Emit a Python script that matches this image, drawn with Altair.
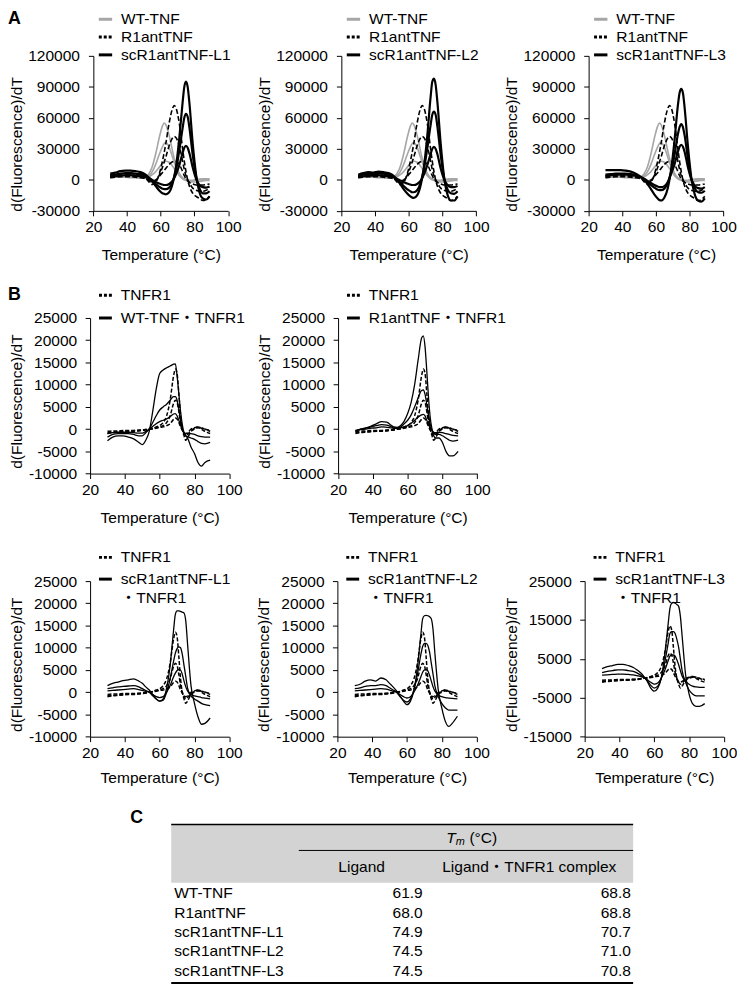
import altair as alt
import pandas as pd

# ------------------------------------------------------------------ data
# Panel A: temperature grid and dF/dT curves (3 concentrations each)
TA = [30, 33, 36, 39, 42, 45, 48, 51, 53, 55, 57, 59, 61, 62, 63, 65, 67, 68,
      69, 71, 73, 74, 75, 76, 77, 79, 81, 83, 85, 87, 89]

WT_1 = [3000, 3500, 3500, 3500, 3000, 3000, 2500, 3000, 6000, 13000, 25000, 40000, 52000, 55000, 53500, 43000,
        28000, 21000, 15000, 6500, 2000, 1000, 500, 0, -500, -300, 300, 800, 1000, 1000, 1000]
WT_2 = [2500, 3000, 3000, 3000, 2500, 2500, 2000, 2500, 4000, 8000, 15000, 24000, 32000, 35000, 36000, 31500,
        22000, 17000, 12500, 5000, 1500, 500, 0, -500, -1000, -1000, -500, 0, 0, 300, 500]
WT_3 = [2000, 2500, 2500, 2500, 2000, 2000, 1500, 2000, 3000, 5000, 8000, 12000, 16000, 17000, 18000, 17000,
        13500, 11000, 8500, 4000, 1000, 0, -500, -1000, -1500, -2000, -2000, -1500, -1000, -500, -500]

R1_1 = [4000, 4500, 5000, 5000, 5000, 4500, 4000, 2000, -2000, -4500, -2500, 5000, 18000, 26000, 35000, 55000,
        69000, 72000, 70000, 55000, 30000, 18000, 8000, 0, -6000, -13000, -16000, -18000, -20000, -19000, -16000]
R1_2 = [3000, 3500, 4000, 4000, 4000, 3500, 3000, 1500, -1000, -2500, -1000, 4000, 12000, 17000, 22000, 33000,
        40500, 42000, 41000, 33000, 18000, 10000, 4000, 0, -3000, -8000, -10000, -11000, -11000, -10000, -8000]
R1_3 = [2000, 2500, 3000, 3000, 3000, 2500, 2000, 1000, 0, -1000, 0, 3000, 7000, 9000, 11000, 15000,
        17500, 18000, 18000, 15000, 8000, 4000, 1000, -1000, -2500, -4000, -5000, -5000, -5000, -4500, -4000]

L1_1 = [6000, 7000, 8500, 9000, 9000, 8500, 7500, 5000, 2000, -2000, -6000, -10000, -13000, -13500, -14000, -12000,
        -4000, 3000, 12000, 40000, 75000, 90000, 95000, 90000, 75000, 35000, 5000, -12000, -18000, -19000, -16000]
L1_2 = [4500, 5000, 6000, 6500, 6500, 6000, 5500, 4000, 2000, -1000, -4000, -6500, -8500, -9000, -9000, -7500,
        -2000, 3000, 9000, 28000, 50000, 60000, 64000, 61000, 51000, 24000, 3000, -8000, -13000, -13000, -11000]
L1_3 = [3000, 3500, 4000, 4500, 4500, 4000, 3500, 2500, 1500, 0, -2000, -3500, -4500, -5000, -5000, -4000,
        -1000, 1500, 5000, 14000, 26000, 31000, 33000, 31000, 26000, 12000, 1000, -5000, -7000, -7500, -6500]

L2_1 = [5000, 6500, 7500, 7000, 8000, 7500, 6500, 4000, 0, -4000, -9000, -13000, -16000, -17000, -17500, -15000,
        -6000, 2000, 12000, 42000, 80000, 95000, 98000, 92000, 76000, 35000, 3000, -14000, -20000, -20000, -16000]
L2_2 = [4000, 5000, 6000, 5500, 6500, 6000, 5000, 3000, 500, -2500, -6000, -9000, -11000, -12000, -12000, -10000,
        -3000, 3000, 10000, 30000, 53000, 63000, 66000, 63000, 52000, 24000, 2000, -9000, -13000, -13500, -11000]
L2_3 = [3000, 3500, 4000, 4000, 4500, 4000, 3500, 2500, 1000, -500, -2000, -3500, -4500, -5000, -5000, -4000,
        -1000, 1500, 5000, 14000, 25000, 30000, 32000, 30000, 25000, 11000, 500, -5000, -7000, -7000, -6000]

L3_1 = [9500, 9500, 9500, 9500, 9000, 8000, 6000, 3000, 0, -4000, -9000, -14000, -18000, -19500, -20000, -17000,
        -8000, 0, 10000, 38000, 72000, 84000, 88000, 84000, 70000, 32000, 2000, -14000, -20000, -21000, -18000]
L3_2 = [5000, 5500, 6000, 6000, 6000, 5500, 4500, 2500, 500, -2000, -5000, -7500, -9500, -10000, -10000, -8500,
        -3000, 2000, 8000, 24000, 44000, 51000, 54000, 51000, 43000, 20000, 1000, -8000, -12000, -12500, -10500]
L3_3 = [4000, 4500, 5000, 5000, 5000, 4500, 4000, 2500, 1000, -1000, -3000, -5000, -6500, -7000, -7000, -6000,
        -2000, 1500, 6000, 15000, 27000, 32000, 34000, 32000, 27000, 12000, 500, -5500, -8000, -8500, -7000]

# Panel B: temperature grid and curves
TB = [30, 33, 36, 39, 42, 45, 48, 50, 52, 54, 56, 58, 60, 62, 64, 66, 68, 69,
      70, 71, 72, 73, 74, 75, 76, 78, 80, 82, 84, 86, 89]

TN_1 = [-1000, -800, -700, -600, -500, -500, -400, -300, -200, 0, 200, 500, 800, 1500, 3000, 6500,
        12000, 13500, 12500, 8000, 3000, 0, -1500, -2500, -2000, -500, 0, 300, 0, -500, -1000]
TN_2 = [-800, -700, -600, -500, -400, -400, -300, -200, -100, 0, 100, 300, 500, 800, 1500, 3000,
        5800, 6500, 6000, 4000, 1500, 0, -1000, -1500, -1200, -300, 200, 500, 300, 0, -500]
TN_3 = [-500, -400, -400, -300, -300, -300, -200, -200, -100, 0, 100, 200, 400, 500, 800, 1200,
        2200, 2500, 2300, 1500, 500, -200, -800, -1000, -800, 0, 300, 500, 200, 0, -300]

WC_1 = [-2600, -1800, -1500, -1500, -1800, -2200, -3000, -3500, -2500, -500, 4000, 9000, 12500, 13300, 13800, 14200,
        14600, 14700, 12000, 8000, 4000, 1000, -800, -1500, -2000, -4000, -5500, -7500, -8300, -7500, -7000]
WC_2 = [-1800, -1200, -1000, -1000, -1000, -1200, -1500, -1500, -800, 0, 1500, 3000, 4300, 5000, 5600, 6500,
        7300, 7300, 6500, 4500, 2000, 0, -1000, -1500, -1700, -2000, -2300, -2800, -3200, -3300, -3000]
WC_3 = [-1000, -800, -700, -700, -700, -800, -900, -900, -500, 0, 600, 1200, 1700, 2000, 2300, 2800,
        3400, 3500, 3000, 2000, 800, -200, -800, -1000, -1000, -1000, -1200, -1500, -1700, -1800, -1800]

RC_1 = [-500, 0, 300, 700, 1200, 1700, 1600, 1000, 500, 400, 800, 1800, 3500, 6000, 10000, 15500,
        20500, 21000, 18500, 13000, 7000, 2500, 0, -1500, -2000, -2000, -3000, -5000, -6000, -6000, -5000]
RC_2 = [-400, 0, 200, 500, 800, 1000, 900, 600, 300, 300, 500, 1200, 2000, 3200, 5000, 7000,
        8700, 8800, 7800, 5500, 3000, 1000, -300, -1000, -1200, -1200, -1500, -2000, -2500, -2700, -2500]
RC_3 = [-300, -100, 0, 200, 300, 500, 400, 300, 200, 200, 300, 500, 800, 1300, 2000, 2700,
        3200, 3300, 3000, 2000, 1000, 200, -300, -700, -800, -700, -800, -1000, -1200, -1400, -1500]

S1_1 = [1500, 2000, 2300, 2600, 2800, 3000, 2500, 2000, 1200, 500, -500, -1500, -2000, -1500, 1000, 6000,
        14000, 17500, 18300, 18300, 18200, 18000, 17800, 16000, 11000, 1500, -2500, -5500, -7200, -7000, -5800]
S1_2 = [800, 1000, 1200, 1300, 1400, 1500, 1200, 800, 400, 0, -800, -1500, -2000, -1800, 0, 3000,
        7000, 8800, 9800, 10200, 10000, 8500, 6000, 3500, 1000, -800, -1500, -2000, -2500, -2800, -3000]
S1_3 = [300, 400, 500, 600, 700, 800, 600, 400, 200, 0, -500, -1000, -1200, -1000, 0, 1500,
        3500, 4300, 4900, 5100, 5000, 4000, 2500, 1200, 300, -500, -800, -1000, -1200, -1300, -1500]

S2_1 = [1500, 1800, 2500, 2800, 2500, 3200, 2800, 2000, 1200, 300, -800, -2000, -2800, -2000, 500, 5500,
        13000, 16500, 17200, 17300, 17200, 17000, 16500, 14000, 9000, 500, -3500, -6500, -7700, -7000, -5400]
S2_2 = [800, 1000, 1300, 1500, 1500, 1700, 1500, 1000, 500, 0, -1000, -1800, -2200, -1500, 500, 4000,
        8500, 10300, 11000, 11000, 10500, 9000, 6500, 4000, 1500, -1000, -2500, -3500, -4000, -4000, -4000]
S2_3 = [300, 400, 500, 600, 700, 800, 700, 500, 200, 0, -500, -1000, -1300, -1000, 0, 1500,
        3500, 4500, 5000, 5100, 4800, 3800, 2500, 1200, 300, -600, -1000, -1200, -1300, -1400, -1500]

S3_1 = [2500, 3000, 3300, 3600, 3600, 3300, 2800, 2200, 1500, 500, -800, -2500, -3300, -2500, 0, 6000,
        14000, 18000, 19300, 19500, 19300, 19000, 18500, 16000, 11000, 1000, -4000, -6500, -7200, -7200, -6500]
S3_2 = [1500, 1800, 2000, 2200, 2200, 2000, 1800, 1400, 900, 300, -600, -1800, -2500, -2000, 0, 4000,
        9000, 11500, 12000, 12000, 11500, 10000, 8000, 5000, 2000, -1000, -3000, -4000, -4500, -4500, -4500]
S3_3 = [800, 900, 1000, 1100, 1100, 1000, 900, 700, 500, 200, -400, -1000, -1500, -1200, 0, 2000,
        4500, 5700, 6000, 6000, 5700, 4800, 3500, 2000, 600, -800, -1500, -2000, -2200, -2300, -2300]

# Panel C: table
TABLE_NAMES = ["WT-TNF", "R1antTNF", "scR1antTNF-L1", "scR1antTNF-L2", "scR1antTNF-L3"]
TM_LIGAND = [61.9, 68.0, 74.9, 74.5, 74.5]
TM_COMPLEX = [68.8, 68.8, 70.7, 71.0, 70.8]

X_TICKS = [20, 40, 60, 80, 100]
YA_TICKS = [-30000, 0, 30000, 60000, 90000, 120000]
YB_TICKS = [-10000, -5000, 0, 5000, 10000, 15000, 20000, 25000]
YB5_TICKS = [-15000, -5000, 5000, 15000, 25000]

for arr in [WT_1, WT_2, WT_3, R1_1, R1_2, R1_3, L1_1, L1_2, L1_3, L2_1, L2_2, L2_3, L3_1, L3_2, L3_3]:
    assert len(arr) == len(TA), len(arr)
for arr in [TN_1, TN_2, TN_3, WC_1, WC_2, WC_3, RC_1, RC_2, RC_3, S1_1, S1_2, S1_3,
            S2_1, S2_2, S2_3, S3_1, S3_2, S3_3]:
    assert len(arr) == len(TB), len(arr)

# ------------------------------------------------------------------ style
FONT = "Liberation Sans, Arial, 'Noto Sans CJK JP', sans-serif"
FS = 15.7
GRAY = "#a6a6a6"
W, H = 737, 982

AX = dict(grid=False, tickSize=5, tickColor="black", domainColor="black", domainWidth=1,
          tickWidth=1, labelColor="black", titleColor="black", labelFont=FONT,
          labelFontSize=FS, titleFont=FONT, titleFontSize=FS, titleFontWeight="normal",
          labelOverlap=False, labelFlush=False)

layers = []


def curves_df(T, curves):
    rows = []
    for i, vals in enumerate(curves):
        for t, v in zip(T, vals):
            rows.append({"T": t, "v": v, "c": i})
    return pd.DataFrame(rows)


def add_plot(x0, x1, yt, yb, ydom, yticks, groups, xt_dy, yt_cy, yt_dx, ylpad):
    xs = alt.Scale(domain=[20, 100], range=[x0, x1], nice=False, zero=False)
    ys = alt.Scale(domain=ydom, range=[yb, yt], nice=False, zero=False)
    for k, (T, curves, color, dash, sw) in enumerate(groups):
        if k == 0:
            xa = alt.Axis(orient="bottom", offset=yb - H, values=X_TICKS, title="Temperature (°C)",
                          labelPadding=4, titleY=xt_dy, titleBaseline="middle", titleAlign="center", **AX)
            ya = alt.Axis(orient="left", offset=-x0, values=yticks, title="d(Fluorescence)/dT",
                          labelPadding=ylpad, labelExpr="datum.value + ''", titleAngle=270,
                          titleX=yt_dx, titleY=yt_cy, titleBaseline="middle", titleAlign="center", **AX)
        else:
            xa = None
            ya = None
        kw = dict(color=color, strokeWidth=sw, interpolate="monotone")
        if dash:
            kw["strokeDash"] = dash
        layers.append(
            alt.Chart(curves_df(T, curves)).mark_line(**kw).encode(
                x=alt.X("T:Q", scale=xs, axis=xa),
                y=alt.Y("v:Q", scale=ys, axis=ya),
                detail="c:N",
            )
        )


def add_text(label, x, y, align="left", size=FS, weight="normal", style="normal", font=FONT):
    layers.append(
        alt.Chart(pd.DataFrame({"label": [label]})).mark_text(
            align=align, baseline="middle", font=font, fontSize=size, fontWeight=weight,
            fontStyle=style, color="black"
        ).encode(x=alt.value(x), y=alt.value(y), text="label:N")
    )


def add_rule(x_a, x_b, y, color="black", width=1.0, dash=None):
    kw = dict(color=color, strokeWidth=width, strokeCap="butt")
    if dash:
        kw["strokeDash"] = dash
    layers.append(
        alt.Chart(pd.DataFrame({"k": [0]})).mark_rule(**kw).encode(
            x=alt.value(x_a), x2=alt.value(x_b), y=alt.value(y)
        )
    )


def add_legend(x0, entries, ys, sym, tdx):
    for (label, color, dash), y in zip(entries, ys):
        if color:
            add_rule(x0 + sym[0], x0 + sym[1], y, color=color, width=3, dash=dash)
        add_text(label, x0 + tdx, y)


# ------------------------------------------------------------------ panel A
A_YT, A_YB = 43, 199.7
A_X0 = [86.3, 337, 587]
A_W = 136.2
SC_SETS = [[L1_1, L1_2, L1_3], [L2_1, L2_2, L2_3], [L3_1, L3_2, L3_3]]
for i, x0 in enumerate(A_X0):
    groups = [
        (TA, [WT_1, WT_2, WT_3], GRAY, None, 1.6),
        (TA, [R1_1, R1_2, R1_3], "black", [5, 2.5], 1.6),
        (TA, SC_SETS[i], "black", None, 2.2),
    ]
    add_plot(x0, x0 + A_W, A_YT, A_YB, [-30000, 120000], YA_TICKS, groups, 44, 132, -77.5, 9)
    add_legend(x0, [("WT-TNF", GRAY, None), ("R1antTNF", "black", [3, 2]),
                    ("scR1antTNF-L%d" % (i + 1), "black", None)],
               [6, 24, 42], (5.5, 19), 28)

# ------------------------------------------------------------------ panel B
B_W = 140.7
TN = [TN_1, TN_2, TN_3]
BT_YT, BT_YB = 308, 465.3
for x0, comp, lab in [(83, [WC_1, WC_2, WC_3], "WT-TNF・TNFR1"),
                      (333.7, [RC_1, RC_2, RC_3], "R1antTNF・TNFR1")]:
    groups = [(TB, TN, "black", [4, 2], 1.5), (TB, comp, "black", None, 1.3)]
    add_plot(x0, x0 + B_W, BT_YT, BT_YB, [-10000, 25000], YB_TICKS, groups, 44, 392, -74.3, 8.5)
    add_legend(x0, [("TNFR1", "black", [3, 2]), (lab, "black", None)], [285, 308], (9, 22), 31)

BB_YT, BB_YB = 574, 731.3
for i, (x0, comp) in enumerate([(83, [S1_1, S1_2, S1_3]), (333, [S2_1, S2_2, S2_3]),
                                (583, [S3_1, S3_2, S3_3])]):
    groups = [(TB, TN, "black", [4, 2], 1.5), (TB, comp, "black", None, 1.3)]
    if i < 2:
        ydom, yt = [-10000, 25000], YB_TICKS
    else:
        ydom, yt = [-15000, 25000], YB5_TICKS
    add_plot(x0, x0 + B_W, BB_YT, BB_YB, ydom, yt, groups, 41.5, 658, -74.3, 8.5)
    add_legend(x0, [("TNFR1", "black", [3, 2]), ("scR1antTNF-L%d" % (i + 1), "black", None),
                    ("・TNFR1", None, None)], [550, 572, 591], (9, 22), 31)

# ------------------------------------------------------------------ panel labels
add_text("A", 0, 6, size=18, weight="bold")
add_text("B", 0, 285, size=18, weight="bold")
add_text("C", 130, 814, align="center", size=18, weight="bold")

# ------------------------------------------------------------------ panel C table
TX0, TX1 = 165, 632
layers.append(
    alt.Chart(pd.DataFrame({"k": [0]})).mark_rect(color="#d3d3d3").encode(
        x=alt.value(TX0), x2=alt.value(TX1), y=alt.value(820), y2=alt.value(879)
    )
)
add_rule(TX0, TX1, 820, width=1.5)
add_rule(294, TX1, 846.3, width=1)
add_rule(TX0, TX1, 980.3, width=2)
add_text("T", 443, 833.7, style="italic")
add_text("m", 452.6, 837.7, size=11, style="italic")
add_text("(°C)", 466.5, 833.7)
add_text("Ligand", 357.5, 862.7, align="center")
add_text("Ligand・TNFR1 complex", 527, 862.7, align="center")

tdf = pd.DataFrame({"name": TABLE_NAMES, "lig": TM_LIGAND, "cpx": TM_COMPLEX})
row_scale = alt.Scale(type="point", domain=TABLE_NAMES, range=[889.7, 968.1], padding=0)
for field, xpos, align, fmt in [("name", 168, "left", None), ("lig", 419.3, "right", ".1f"),
                                ("cpx", 629.7, "right", ".1f")]:
    txt = alt.Text(field + ":N") if fmt is None else alt.Text(field + ":Q", format=fmt)
    layers.append(
        alt.Chart(tdf).mark_text(align=align, baseline="middle", font=FONT, fontSize=FS,
                                 color="black").encode(
            x=alt.value(xpos),
            y=alt.Y("name:N", scale=row_scale, axis=None),
            text=txt,
        )
    )

chart = (
    alt.layer(*layers)
    .resolve_scale(x="independent", y="independent")
    .properties(width=W, height=H, padding=0, autosize=alt.AutoSizeParams(type="none"))
    .configure_view(strokeWidth=0)
)

chart.save("out.html", embed_options={"renderer": "svg", "actions": False})
